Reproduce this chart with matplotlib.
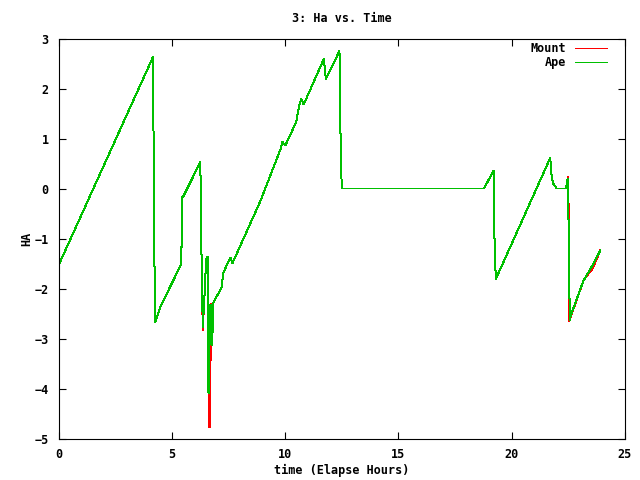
import matplotlib
matplotlib.use("Agg")
import matplotlib.pyplot as plt

# Ape track (green)
t_ape = [0.00, 4.18, 4.19, 4.23, 4.27, 4.49, 5.42, 5.42, 5.47, 5.47, 5.53,
         6.26, 6.28, 6.33, 6.37, 6.40, 6.44, 6.48, 6.53, 6.58, 6.60, 6.62,
         6.66, 6.70, 6.74, 6.79, 6.81, 7.21, 7.26, 7.58, 7.68, 8.91, 9.82,
         9.87, 10.01, 10.49, 10.63, 10.72, 10.82, 11.71, 11.80, 12.40, 12.41,
         12.46, 12.50, 18.78, 19.20, 19.21, 19.25, 19.30, 21.70, 21.77, 21.83,
         21.95, 21.98, 22.40, 22.47, 22.50, 22.53, 22.57, 22.60, 23.17, 23.50,
         23.91]
ha_ape = [-1.54, 2.64, 1.31, -1.34, -2.67, -2.37, -1.51, -1.17, -1.17, -0.17, -0.14,
          0.53, -0.29, -1.97, -2.77, -2.50, -2.17, -1.74, -1.40, -1.37, -2.70, -4.10,
          -3.20, -2.33, -2.33, -3.13, -2.30, -1.97, -1.70, -1.38, -1.49, -0.25, 0.81,
          0.94, 0.86, 1.33, 1.68, 1.79, 1.68, 2.59, 2.19, 2.75, 2.07,
          0.69, 0.00, 0.00, 0.36, -0.17, -1.24, -1.81, 0.61, 0.21, 0.10,
          0.03, 0.00, 0.00, 0.20, -0.30, -1.73, -2.63, -2.55, -1.84, -1.59,
          -1.24]

# Mount track (red)
t_mount = [0.00, 4.18, 4.19, 4.23, 4.27, 4.49, 5.42, 5.42, 5.47, 5.47, 5.53,
           6.26, 6.28, 6.33, 6.37, 6.40, 6.44, 6.48, 6.53, 6.58, 6.60, 6.64,
           6.67, 6.74, 6.79, 6.81, 7.21, 7.26, 7.58, 7.68, 8.91, 9.82,
           9.87, 10.01, 10.49, 10.63, 10.72, 10.82, 11.71, 11.80, 12.40, 12.41,
           12.46, 12.50, 18.78, 19.20, 19.21, 19.25, 19.30, 21.70, 21.77, 21.83,
           21.95, 21.98, 22.40, 22.48, 22.50, 22.52, 22.55, 22.60, 23.17, 23.45,
           23.55, 23.91]
ha_mount = [-1.54, 2.64, 1.31, -1.34, -2.67, -2.37, -1.51, -1.17, -1.17, -0.17, -0.14,
            0.53, -0.29, -1.97, -2.84, -2.50, -2.17, -1.74, -1.40, -1.37, -2.70, -4.77,
            -4.77, -2.31, -3.10, -2.30, -1.97, -1.70, -1.38, -1.49, -0.25, 0.81,
            0.94, 0.86, 1.33, 1.68, 1.79, 1.68, 2.59, 2.19, 2.75, 2.07,
            0.69, 0.00, 0.00, 0.36, -0.17, -1.24, -1.81, 0.61, 0.21, 0.10,
            0.03, 0.00, 0.00, 0.23, -0.30, -0.30, -2.65, -2.57, -1.84, -1.66,
            -1.62, -1.24]

xticks = [0, 5, 10, 15, 20, 25]
yticks = [-5, -4, -3, -2, -1, 0, 1, 2, 3]

plt.rcParams["font.family"] = "DejaVu Sans Mono"
plt.rcParams["font.weight"] = "bold"
plt.rcParams["font.size"] = 8.5

fig = plt.figure(figsize=(6.4, 4.8), dpi=100)
ax = fig.add_axes([58.5 / 640, 1 - 438.5 / 480, (625 - 58.5) / 640, 400 / 480])

ax.plot(t_mount, ha_mount, color="#ff0000", linewidth=0.72, label="Mount",
        antialiased=False)
ax.plot(t_ape, ha_ape, color="#00c000", linewidth=0.72, label="Ape",
        antialiased=False)

ax.set_xlim(0, 25)
ax.set_ylim(-5, 3)
ax.set_xticks(xticks)
ax.set_yticks(yticks)
ax.tick_params(direction="in", length=5, width=0.8, top=True, right=True, pad=7)
for s in ax.spines.values():
    s.set_linewidth(0.8)

ax.set_title("3: Ha vs. Time", fontsize=8.5, fontweight="bold", pad=12)
ax.set_xlabel("time (Elapse Hours)", fontweight="bold", labelpad=2)
ax.set_ylabel("HA", fontweight="bold", labelpad=1)

ax.legend(loc="upper right", bbox_to_anchor=(0.975, 1.0), frameon=False,
          markerfirst=False, handlelength=2.7, borderaxespad=0.2, borderpad=0.1,
          labelspacing=0.1, handletextpad=0.75)

fig.savefig("out.png", dpi=100)
